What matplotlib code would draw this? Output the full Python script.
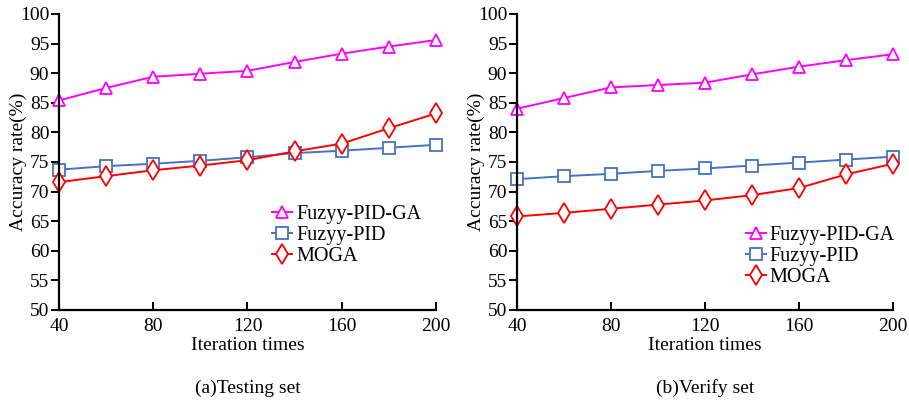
import matplotlib.pyplot as plt

plt.rcParams['font.family'] = ['Liberation Serif', 'DejaVu Serif']

iterations = [40, 60, 80, 100, 120, 140, 160, 180, 200]

# (a) Testing set
test_ga = [85.4, 87.5, 89.4, 89.9, 90.4, 91.9, 93.3, 94.5, 95.6]
test_pid = [73.7, 74.3, 74.7, 75.2, 75.8, 76.5, 76.9, 77.4, 77.9]
test_moga = [71.6, 72.6, 73.6, 74.4, 75.3, 76.8, 78.1, 80.7, 83.2]

# (b) Verify set
ver_ga = [84.0, 85.8, 87.6, 88.0, 88.4, 89.8, 91.1, 92.2, 93.2]
ver_pid = [72.1, 72.6, 73.0, 73.5, 73.9, 74.4, 74.9, 75.4, 75.9]
ver_moga = [65.8, 66.4, 67.1, 67.8, 68.5, 69.4, 70.6, 72.9, 74.7]

labels = ['Fuzyy-PID-GA', 'Fuzyy-PID', 'MOGA']
colors = ['#ff00ff', '#4472c4', '#ff0000']
markers = ['^', 's', 'd']
captions = ['(a)Testing set', '(b)Verify set']

fs = 14

fig = plt.figure(figsize=(9.09, 4.03), dpi=100)
ax1 = fig.add_axes([0.0649, 0.2308, 0.4147, 0.7345])
ax2 = fig.add_axes([0.5688, 0.2308, 0.4136, 0.7345])

panels = [
    (ax1, [test_ga, test_pid, test_moga], (0.565, 0.355)),
    (ax2, [ver_ga, ver_pid, ver_moga], (0.608, 0.285)),
]

for i, (ax, series, legpos) in enumerate(panels):
    for vals, lab, c, m in zip(series, labels, colors, markers):
        ax.plot(iterations, vals, color=c, marker=m, markersize=9 if m != 'd' else 10,
                markerfacecolor='white', markeredgecolor=c, markeredgewidth=1.3,
                linewidth=1.4, label=lab, clip_on=False)
    ax.set_xlim(40, 200)
    ax.set_ylim(50, 100)
    ax.set_xticks([40, 80, 120, 160, 200])
    ax.set_yticks(range(50, 101, 5))
    ax.spines['top'].set_visible(False)
    ax.spines['right'].set_visible(False)
    ax.spines['left'].set_linewidth(1.6)
    ax.spines['bottom'].set_linewidth(1.6)
    ax.tick_params(axis='x', direction='in', length=6, width=1.4, labelsize=fs, pad=6)
    ax.tick_params(axis='y', direction='out', length=6, width=1.4, labelsize=fs, pad=1)
    ax.set_xlabel('Iteration times', fontsize=fs)
    ax.xaxis.set_label_coords(0.5, -0.091)
    ax.set_ylabel('Accuracy rate(%)', fontsize=fs)
    ax.yaxis.set_label_coords(-0.085, 0.5)
    ax.legend(loc='upper left', bbox_to_anchor=legpos, frameon=False, fontsize=14.5,
              handlelength=1.0, handletextpad=0.2, labelspacing=0.1,
              borderpad=0, borderaxespad=0)
    ax.text(0.5, -0.264, captions[i], transform=ax.transAxes, ha='center', va='center',
            fontsize=fs)

fig.savefig('out.png', dpi=100)
